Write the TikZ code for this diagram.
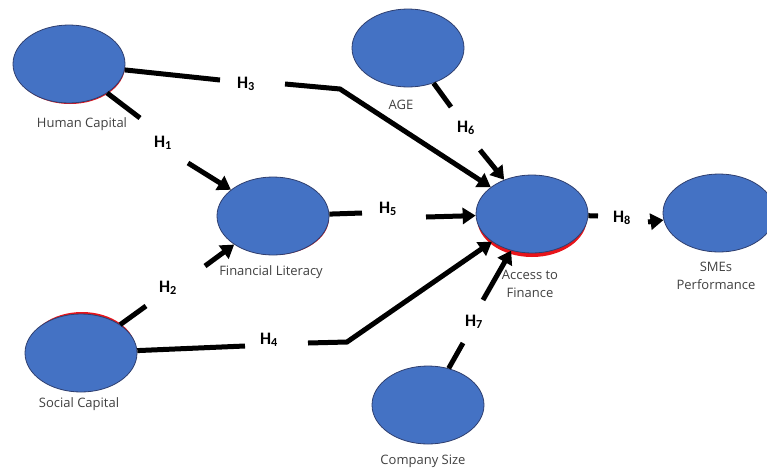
\documentclass[tikz,border=0pt]{standalone}
\usepackage{fontspec}
\setmainfont{Open Sans}
\newfontfamily\hfont{Carlito}
\usetikzlibrary{shapes.geometric,arrows.meta}
\definecolor{vblue}{HTML}{4472C4}
\definecolor{vborder}{HTML}{2F3F6F}
\definecolor{labgray}{HTML}{404040}
\definecolor{shred}{HTML}{E8141A}
\begin{document}
\begin{tikzpicture}[x=1pt,y=-1pt,
 var/.style={ellipse, draw=vborder, line width=0.8pt, fill=vblue, minimum width=112pt, minimum height=78pt, inner sep=0pt},
 lab/.style={font=\fontsize{13}{18}\selectfont, text=labgray, align=center},
 hyp/.style={font=\hfont\bfseries\fontsize{17.5}{19}\selectfont, inner sep=0pt},
 conn/.style={line width=5pt},
 arr/.style={conn, -{Triangle[length=13pt,width=16pt]}},
]
\useasboundingbox (0,0) rectangle (767,469);
% red shadow artefacts
\fill[shred] (70,66) ellipse [x radius=55pt, y radius=38pt];
\fill[shred] (274,218) ellipse [x radius=55pt, y radius=37pt];
\fill[shred] (532,218) ellipse [x radius=55pt, y radius=39pt];
\fill[shred] (82,351) ellipse [x radius=54pt, y radius=39pt];
% variables
\node[var] (hc) at (69,64) {};
\node[var] (age) at (408,48) {};
\node[var] (fl) at (273,216) {};
\node[var] (atf) at (532,214) {};
\node[var] (sme) at (719,213) {};
\node[var] (sc) at (81,353) {};
\node[var] (cs) at (428,405) {};
% labels
\node[lab] (hcl) at (82,124) {Human Capital};
\node[lab] (agel) at (401,105) {AGE};
\node[lab] (fll) at (271,272) {Financial Literacy};
\node[lab] (atfl) at (530,284) {Access to\\Finance};
\node[lab] (smel) at (716,276) {SMEs\\Performance};
\node[lab] (scl) at (79,404) {Social Capital};
\node[lab] (csl) at (423,461) {Company Size};
% hypothesis labels
\node[hyp] (h1) at (163,143) {H\textsubscript{1}};
\node[hyp] (h2) at (168,288) {H\textsubscript{2}};
\node[hyp] (h3) at (246,84) {H\textsubscript{3}};
\node[hyp] (h4) at (269,340) {H\textsubscript{4}};
\node[hyp] (h5) at (388,209) {H\textsubscript{5}};
\node[hyp] (h6) at (466,128) {H\textsubscript{6}};
\node[hyp] (h7) at (474,322) {H\textsubscript{7}};
\node[hyp] (h8) at (622,218) {H\textsubscript{8}};
% gap coordinates
\coordinate (h1a) at (140,118); \coordinate (h1b) at (188,163);
\coordinate (h2a) at (146,306); \coordinate (h2b) at (205,266);
\coordinate (h3a) at (220,80);  \coordinate (h3b) at (285,84); \coordinate (k3) at (340,89);
\coordinate (h4a) at (245,346); \coordinate (h4b) at (308,343); \coordinate (k4) at (347,342);
\coordinate (h5a) at (362,213); \coordinate (h5b) at (426,217);
\coordinate (h6a) at (451,107); \coordinate (h6b) at (480,150);
\coordinate (h7a) at (463,343); \coordinate (h7b) at (483,300);
\coordinate (h8a) at (598,216); \coordinate (h8b) at (648,222);
% connectors
\draw[conn] (hc) -- (h1a);  \draw[arr] (h1b) -- (fl);
\draw[conn] (sc) -- (h2a);  \draw[arr] (h2b) -- (fl);
\draw[conn] (hc) -- (h3a);  \draw[arr] (h3b) -- (k3) -- (atf);
\draw[conn] (sc) -- (h4a);  \draw[arr] (h4b) -- (k4) -- (atf);
\draw[conn] (fl) -- (h5a);  \draw[arr] (h5b) -- (atf);
\draw[conn] (age) -- (h6a); \draw[arr] (h6b) -- (atf);
\draw[conn] (cs) -- (h7a);  \draw[arr] (h7b) -- (atf);
\draw[conn] (atf) -- (h8a); \draw[arr] (h8b) -- (sme);
\end{tikzpicture}
\end{document}
